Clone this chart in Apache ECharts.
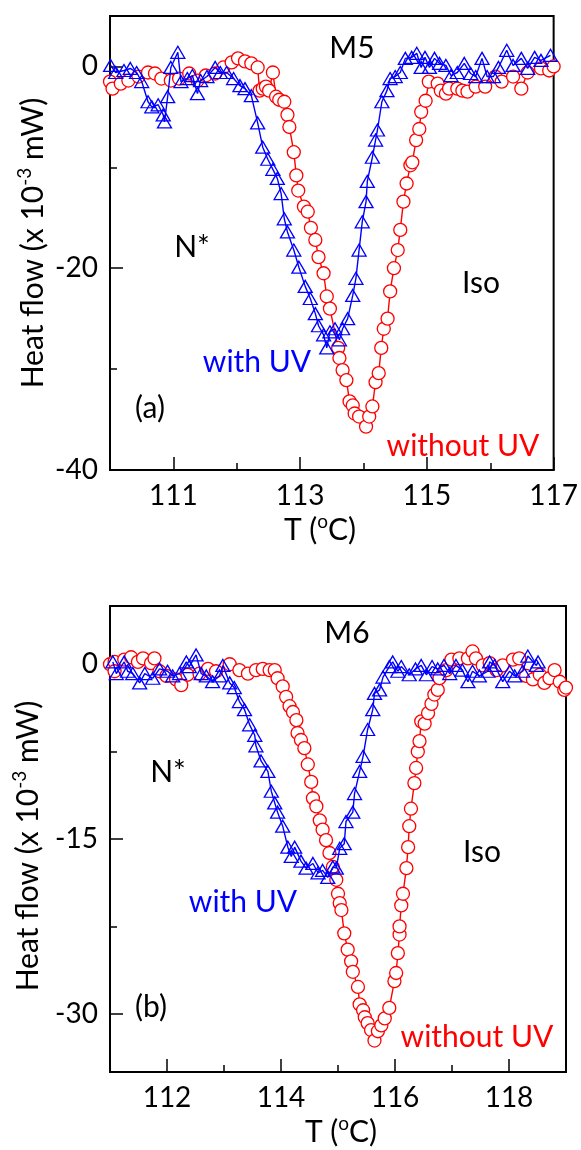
<!DOCTYPE html>
<html>
<head>
<meta charset="utf-8">
<title>DSC M5 / M6</title>
<script src="https://cdn.jsdelivr.net/npm/echarts@6.0.0/dist/echarts.min.js"></script>
<style>
  html, body { margin: 0; padding: 0; background: #fff; }
  #chart { width: 581px; height: 1150px; }
</style>
</head>
<body>
<div id="chart"></div>
<script>
// panel (a) M5 : [T (°C), heat flow (x 10^-3 mW)]
const m5WithoutUV = [
  [110.0, -1.5], [110.04, -2.2], [110.17, -1.7], [110.29, -1.4], [110.45, -1.0], [110.6, -0.6],
  [110.71, -0.7], [110.81, -1.2], [110.96, -1.4], [111.09, -1.2], [111.25, -0.7], [111.38, -1.4],
  [111.51, -0.9], [111.66, -0.7], [111.79, -0.1], [111.92, 0.4], [112.02, 0.8], [112.13, 0.5],
  [112.23, 0.3], [112.33, -0.1], [112.36, -2.4], [112.41, -2.2], [112.46, -2.0], [112.51, -2.4],
  [112.57, -0.6], [112.62, -3.0], [112.67, -3.3], [112.75, -3.5], [112.8, -4.8], [112.83, -6.0],
  [112.9, -8.5], [112.94, -10.8], [112.97, -12.3], [113.06, -13.9], [113.12, -14.4], [113.17, -16.0],
  [113.24, -17.2], [113.29, -18.9], [113.37, -20.5], [113.42, -22.8], [113.47, -24.0], [113.6, -27.9],
  [113.62, -28.9], [113.67, -30.1], [113.73, -31.1], [113.78, -33.2], [113.83, -33.6], [113.86, -34.4],
  [113.93, -34.7], [114.04, -35.7], [114.09, -34.7], [114.14, -33.7], [114.19, -31.3], [114.24, -30.4],
  [114.28, -27.9], [114.32, -26.0], [114.38, -25.0], [114.42, -22.3], [114.48, -20.0], [114.54, -18.2],
  [114.58, -16.2], [114.63, -13.4], [114.68, -11.6], [114.74, -9.8], [114.77, -9.5], [114.83, -7.3],
  [114.88, -6.2], [114.91, -4.5], [114.98, -3.4], [115.03, -1.5], [115.17, -1.7], [115.22, -2.4],
  [115.3, -2.7], [115.35, -2.2], [115.48, -2.2], [115.56, -2.4], [115.64, -2.5], [115.77, -2.0],
  [115.92, -2.0], [116.08, -1.0], [116.18, -1.5], [116.36, -1.0], [116.49, -2.2], [116.59, -0.6],
  [116.8, -0.2], [116.93, -0.4], [117.0, 0.0]
]
const m5WithUV = [
  [110.01, 0.1], [110.09, -0.6], [110.22, -0.4], [110.32, -0.2], [110.42, -0.6], [110.5, -1.5],
  [110.6, -3.5], [110.66, -4.0], [110.76, -3.8], [110.84, -4.8], [110.86, -5.5], [110.91, -3.0],
  [110.96, -0.1], [111.07, 1.4], [111.12, -1.5], [111.22, -1.2], [111.3, -0.9], [111.38, -2.7],
  [111.43, -1.4], [111.53, -1.0], [111.66, -0.1], [111.74, -0.6], [111.84, -0.6], [111.95, -1.2],
  [112.05, -1.9], [112.13, -2.2], [112.23, -2.9], [112.33, -5.6], [112.41, -8.0], [112.49, -9.2],
  [112.57, -10.2], [112.64, -11.1], [112.7, -12.6], [112.75, -15.1], [112.8, -16.4], [112.9, -18.2],
  [112.98, -19.9], [113.08, -21.8], [113.16, -23.0], [113.24, -24.5], [113.29, -25.7], [113.37, -26.6],
  [113.42, -27.9], [113.47, -26.3], [113.55, -26.0], [113.62, -27.1], [113.67, -26.0], [113.75, -25.0],
  [113.83, -22.7], [113.88, -21.0], [113.93, -18.2], [113.98, -15.4], [114.04, -13.4], [114.06, -11.4],
  [114.14, -9.0], [114.19, -7.3], [114.22, -6.3], [114.29, -3.5], [114.37, -2.4], [114.42, -1.2],
  [114.5, -1.0], [114.58, -0.6], [114.66, 0.8], [114.76, 0.9], [114.84, 1.3], [114.91, -0.1],
  [114.97, 0.9], [115.04, -0.1], [115.12, 0.8], [115.2, 0.3], [115.3, 0.1], [115.38, -0.9],
  [115.48, -0.6], [115.59, 0.3], [115.69, -0.7], [115.77, -1.0], [115.87, 0.8], [115.95, -1.0],
  [116.05, -1.0], [116.13, -0.1], [116.26, 1.6], [116.36, 0.1], [116.49, 0.8], [116.59, -0.2],
  [116.7, 0.9], [116.8, 0.6], [116.95, 1.1]
]

// panel (b) M6
const m6WithoutUV = [
  [111.0, 0.0], [111.08, 0.2], [111.08, -0.6], [111.25, 0.4], [111.37, 0.6], [111.49, 0.2],
  [111.58, 0.5], [111.72, 0.1], [111.78, 0.5], [111.87, -0.6], [111.99, -1.0], [112.16, -1.3],
  [112.25, -1.8], [112.36, -0.9], [112.57, -0.8], [112.72, -0.4], [112.86, -0.6], [113.1, 0.0],
  [113.27, -0.5], [113.42, -0.8], [113.56, -0.5], [113.68, -0.4], [113.8, -0.5], [113.89, -0.5],
  [113.94, -1.2], [114.03, -1.9], [114.09, -2.8], [114.15, -3.6], [114.21, -4.1], [114.27, -4.8],
  [114.29, -5.9], [114.35, -6.5], [114.41, -7.2], [114.47, -8.6], [114.53, -10.1], [114.56, -11.5],
  [114.62, -12.2], [114.68, -13.4], [114.73, -14.2], [114.79, -15.1], [114.85, -16.2], [114.91, -17.4],
  [114.97, -18.5], [115.0, -19.7], [115.03, -20.5], [115.06, -21.1], [115.11, -23.1], [115.17, -24.5],
  [115.23, -25.5], [115.26, -26.4], [115.35, -27.7], [115.38, -29.2], [115.44, -29.7], [115.47, -30.3],
  [115.52, -30.8], [115.58, -31.4], [115.64, -32.3], [115.7, -31.5], [115.76, -31.0], [115.82, -30.4],
  [115.9, -29.5], [115.99, -27.2], [116.02, -26.5], [116.05, -24.8], [116.08, -23.2], [116.08, -22.5],
  [116.11, -20.7], [116.14, -19.7], [116.2, -17.5], [116.23, -15.7], [116.25, -13.9], [116.28, -12.4],
  [116.34, -10.2], [116.37, -8.9], [116.4, -7.5], [116.43, -6.6], [116.46, -4.9], [116.52, -5.1],
  [116.58, -4.2], [116.64, -3.4], [116.69, -2.6], [116.75, -2.2], [116.78, -1.2], [116.9, -0.5],
  [116.99, 0.4], [117.13, 0.5], [117.28, 0.5], [117.36, 1.1], [117.42, 0.5], [117.54, -0.1],
  [117.66, 0.1], [117.78, -0.5], [117.89, -0.1], [118.07, 0.4], [118.18, 0.5], [118.3, -1.0],
  [118.42, -1.3], [118.54, -0.9], [118.62, -1.6], [118.71, -1.2], [118.8, -0.5], [118.89, -1.5],
  [118.97, -2.2], [119.0, -2.0]
]
const m6WithUV = [
  [111.05, 0.2], [111.11, -0.8], [111.25, 0.2], [111.31, -0.6], [111.4, -0.8], [111.52, -1.6],
  [111.61, -0.8], [111.75, -1.2], [111.87, -0.4], [112.01, -0.6], [112.1, -1.0], [112.22, -0.8],
  [112.34, 0.2], [112.39, -0.2], [112.51, 0.8], [112.6, -0.8], [112.69, -1.0], [112.8, -1.5],
  [112.92, -1.0], [112.98, -0.1], [113.1, -1.6], [113.18, -2.0], [113.27, -3.2], [113.36, -3.9],
  [113.45, -5.2], [113.54, -6.1], [113.56, -7.0], [113.65, -8.3], [113.77, -9.2], [113.83, -10.9],
  [113.89, -11.9], [113.94, -12.7], [114.03, -13.9], [114.12, -15.7], [114.18, -16.5], [114.24, -15.7],
  [114.35, -16.9], [114.44, -17.5], [114.56, -17.1], [114.65, -17.9], [114.73, -17.7], [114.82, -18.3],
  [114.91, -17.4], [114.97, -17.5], [115.03, -15.8], [115.11, -15.4], [115.14, -13.5], [115.26, -12.7],
  [115.29, -11.1], [115.38, -9.2], [115.44, -7.9], [115.52, -5.6], [115.61, -3.9], [115.64, -2.5],
  [115.73, -2.2], [115.79, -1.1], [115.9, -0.2], [115.96, 0.2], [116.05, -0.6], [116.11, -0.2],
  [116.25, -0.9], [116.36, -0.4], [116.46, -0.1], [116.55, -0.9], [116.65, -0.2], [116.75, -0.4],
  [116.86, -0.1], [116.96, -0.8], [117.07, -0.1], [117.18, -0.5], [117.28, -1.5], [117.36, -0.6],
  [117.48, -1.0], [117.63, -0.6], [117.66, 0.2], [117.75, -0.1], [117.89, -1.5], [118.01, -0.6],
  [118.1, -1.0], [118.24, -0.6], [118.33, 0.7], [118.48, -0.1], [118.51, 0.2]
]

// tick labels / minor ticks
const m5XLabels = [111, 113, 115, 117]
const m5XMinor = [112, 114, 116]
const m5YLabels = [0, -20, -40]
const m5YMinor = [-10, -30]
const m6XLabels = [112, 114, 116, 118]
const m6XMinor = [113, 115, 117]
const m6YLabels = [0, -15, -30]
const m6YMinor = [-7.5, -22.5]

const FONT = 'Lato, "Open Sans", sans-serif'

// one labelled axis with long ticks + one bare axis carrying the short ticks
function axes (gridIndex, min, max, labels, minor, position) {
  const base = {
    type: 'value',
    gridIndex: gridIndex,
    min: min,
    max: max,
    position: position,
    splitLine: { show: false }
  }
  return [
    Object.assign({}, base, {
      axisLine: { onZero: false, lineStyle: { color: '#000', width: 2 } },
      axisTick: { inside: true, length: 13, customValues: labels, lineStyle: { color: '#000', width: 1.5 } },
      axisLabel: { customValues: labels, color: '#000', fontSize: 28, fontFamily: FONT, margin: 12 }
    }),
    Object.assign({}, base, {
      axisLine: { show: false, onZero: false },
      axisTick: { inside: true, length: 7, customValues: minor, lineStyle: { color: '#000', width: 1.5 } },
      axisLabel: { show: false }
    })
  ]
}

function redSeries (data, xi, yi) {
  return {
    type: 'line',
    data: data,
    xAxisIndex: xi,
    yAxisIndex: yi,
    symbol: 'circle',
    symbolSize: 13,
    itemStyle: { color: '#fff', borderColor: '#ff0000', borderWidth: 1.3 },
    lineStyle: { color: '#ff0000', width: 1.4 },
    z: 2
  }
}

function blueSeries (data, xi, yi) {
  return {
    type: 'line',
    data: data,
    xAxisIndex: xi,
    yAxisIndex: yi,
    symbol: 'triangle',
    symbolSize: [14, 12],
    itemStyle: { color: 'rgba(0,0,0,0)', borderColor: '#0000ff', borderWidth: 1.3 },
    lineStyle: { color: '#0000ff', width: 1.4 },
    z: 3
  }
}

function label (text, x, y, color, size) {
  return {
    type: 'text',
    x: x,
    y: y,
    z: 10,
    style: {
      text: text,
      fill: color || '#000',
      fontSize: size || 30,
      fontFamily: FONT,
      align: 'center',
      verticalAlign: 'middle'
    }
  }
}

function richLabel (text, x, y, rotation) {
  return {
    type: 'text',
    x: x,
    y: y,
    z: 10,
    rotation: rotation || 0,
    style: {
      text: text,
      fill: '#000',
      fontSize: 30,
      fontFamily: FONT,
      align: 'center',
      verticalAlign: 'middle',
      rich: {
        n: { fontSize: 30, fontFamily: FONT, lineHeight: 36 },
        s: { fontSize: 19, fontFamily: FONT, lineHeight: 36, verticalAlign: 'top' }
      }
    }
  }
}

const chart = echarts.init(document.getElementById('chart'))

const option = {
  backgroundColor: '#fff',
  animation: false,
  grid: [
    { left: 110, top: 16, width: 453, height: 454, show: true, borderColor: '#000', borderWidth: 2, backgroundColor: 'transparent' },
    { left: 110, top: 606, width: 456, height: 466, show: true, borderColor: '#000', borderWidth: 2, backgroundColor: 'transparent' }
  ],
  xAxis: [].concat(
    axes(0, 110, 117, m5XLabels, m5XMinor, 'bottom'),
    axes(1, 111, 119, m6XLabels, m6XMinor, 'bottom')
  ),
  yAxis: [].concat(
    axes(0, -40, 5, m5YLabels, m5YMinor, 'left'),
    axes(1, -35, 5, m6YLabels, m6YMinor, 'left')
  ),
  series: [
    redSeries(m5WithoutUV, 0, 0),
    blueSeries(m5WithUV, 0, 0),
    redSeries(m6WithoutUV, 2, 2),
    blueSeries(m6WithUV, 2, 2)
  ],
  graphic: [
    // panel (a)
    label('M5', 352, 48),
    label('N*', 192, 247),
    label('with UV', 257, 362, '#0000ff'),
    label('(a)', 150, 408),
    label('Iso', 481, 283),
    label('without UV', 463, 446, '#ff0000'),
    richLabel('{n|Heat flow (x 10}{s|-3}{n| mW)}', 33, 243, Math.PI / 2),
    richLabel('{n|T (}{s|o}{n|C)}', 320, 530),
    // panel (b)
    label('M6', 347, 633),
    label('N*', 168, 772),
    label('with UV', 243, 902, '#0000ff'),
    label('(b)', 151, 1007),
    label('Iso', 482, 852),
    label('without UV', 477, 1037, '#ff0000'),
    richLabel('{n|Heat flow (x 10}{s|-3}{n| mW)}', 28, 846, Math.PI / 2),
    richLabel('{n|T (}{s|o}{n|C)}', 341, 1132)
  ]
}

chart.setOption(option)
</script>
</body>
</html>
